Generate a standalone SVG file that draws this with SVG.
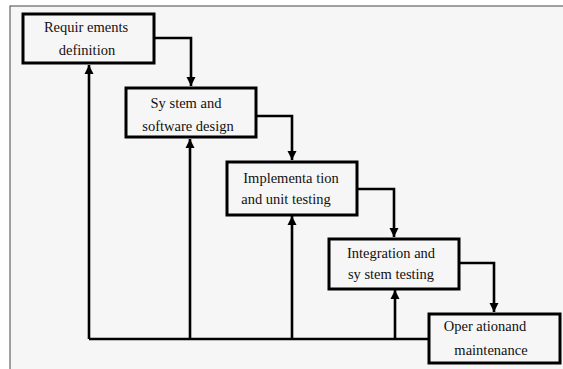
<svg xmlns="http://www.w3.org/2000/svg" width="563" height="369" viewBox="0 0 563 369">
<style>
.box{fill:#f6f6f6;stroke:#000;stroke-width:3}
.ln{fill:none;stroke:#000;stroke-width:2.6}
.t{font-family:'Liberation Serif','DejaVu Serif',serif;font-size:14.5px;fill:#111;text-anchor:middle}
</style>
<defs>
<marker id="ah" viewBox="0 0 10 10" refX="10" refY="5" markerWidth="9" markerHeight="11" markerUnits="userSpaceOnUse" orient="auto">
<path d="M0,0 L10,5 L0,10 z" fill="#000"/>
</marker>
</defs>
<rect x="0" y="0" width="563" height="369" fill="#fff"/>
<rect x="10" y="6" width="560" height="370" fill="#f6f6f6" stroke="#444" stroke-width="1"/>
<g id="connectors">
<path class="ln" d="M154,38 H191 V86" marker-end="url(#ah)"/>
<path class="ln" d="M256,116 H292 V160" marker-end="url(#ah)"/>
<path class="ln" d="M357,189 H394 V237" marker-end="url(#ah)"/>
<path class="ln" d="M459,263 H494 V312" marker-end="url(#ah)"/>
<path class="ln" d="M429,339 H89"/>
<path class="ln" d="M89,339 V65" marker-end="url(#ah)"/>
<path class="ln" d="M190,339 V139" marker-end="url(#ah)"/>
<path class="ln" d="M292,339 V216" marker-end="url(#ah)"/>
<path class="ln" d="M395,339 V290" marker-end="url(#ah)"/>
</g>
<g id="n1"><rect class="box" x="23" y="14" width="131" height="49"/>
<text class="t" x="86" y="32">Requir ements</text><text class="t" x="87" y="55">definition</text></g>
<g id="n2"><rect class="box" x="126" y="88" width="130" height="49"/>
<text class="t" x="186" y="108">Sy stem and</text><text class="t" x="188" y="131">software design</text></g>
<g id="n3"><rect class="box" x="227" y="162" width="130" height="53"/>
<text class="t" x="291" y="183">Implementa tion</text><text class="t" x="286" y="204">and unit testing</text></g>
<g id="n4"><rect class="box" x="329" y="239" width="130" height="50"/>
<text class="t" x="391" y="258">Integration and</text><text class="t" x="391" y="279">sy stem testing</text></g>
<g id="n5"><rect class="box" x="429" y="314" width="131" height="49"/>
<text class="t" x="485" y="331">Oper ationand</text><text class="t" x="491" y="355">maintenance</text></g>
</svg>
